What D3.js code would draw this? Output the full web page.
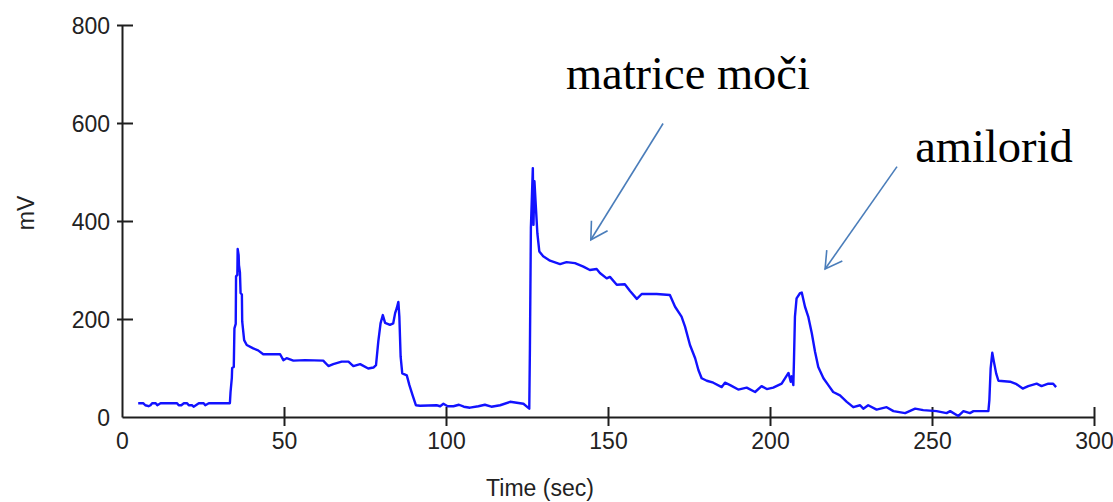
<!DOCTYPE html>
<html>
<head>
<meta charset="utf-8">
<script src="https://cdn.jsdelivr.net/npm/d3@7/dist/d3.min.js"></script>
<style>
  html, body { margin: 0; padding: 0; background: #fff; }
  svg { display: block; }
</style>
</head>
<body>
<svg id="chart" width="1113" height="502"></svg>
<script>
// ---- data ----
const timeSec = [5.0,6.6,7.2,8.2,8.8,9.3,10.4,10.9,11.9,17.0,17.5,18.3,19.1,20.1,20.6,21.6,22.1,22.8,23.7,25.2,25.7,26.8,33.3,
  33.5,33.9,34.0,34.5,34.7,35.1,35.2,35.6,35.7,36.0,36.1,36.4,36.6,37.0,37.1,37.7,38.5,40.5,42.0,43.6,48.8,49.8,50.8,52.9,
  56.5,62.1,63.7,65.2,67.8,69.9,71.4,73.5,76.0,77.6,78.4,79.1,79.8,80.5,81.2,82.7,83.7,84.3,84.8,85.3,85.6,86.0,86.5,87.9,
  88.7,89.7,90.7,92.0,97.1,98.2,99.2,100.5,102.3,104.0,105.5,107.4,110,112,114,116.7,119.8,123.9,125.7,125.9,126.2,126.8,
  127.0,127.3,127.7,128.2,128.8,130.0,132.1,135.2,137.2,139.8,142.4,144.4,146.5,147.5,149.6,150.6,152.7,155.2,156.8,158.9,
  160.4,165.0,169.1,170.7,172.7,173.8,175.3,176.9,177.9,178.9,180.5,182.5,185.1,186.1,187.7,190.2,192.8,195.4,197.4,199.0,
  201.0,203.6,205.7,206.4,206.7,207.2,207.4,207.7,208.2,209.3,209.8,210.8,211.8,212.9,213.9,214.9,216.5,218.0,219.5,221.6,
  223.7,225.7,227.8,228.8,230.3,232.9,236.0,238.1,241.7,244.8,247.3,251.4,254.5,255.6,258.1,259.7,261.7,262.8,267.4,267.7,
  268.1,268.6,269.1,269.8,270.5,274.1,276.1,278.0,279.7,282.3,283.8,285.9,287.4,288.3];
const millivolts = [28,28,24,22,24,28,28,24,28,28,24,24,28,28,24,24,21,24,28,28,24,28,28,
  51,80,100,102,181,190,287,290,343,330,310,295,253,250,195,157,147,140,136,128,128,116,120,115,
  116,115,104,108,113,113,104,108,99,101,106,154,191,208,192,188,191,212,222,235,205,123,89,85,
  65,44,24,23,24,22,27,22,22,25,21,19,22,25,21,24,31,27,17,140,386,508,
  392,481,433,375,338,328,319,312,316,314,307,300,302,294,283,286,270,271,257,241,
  251,251,249,225,205,184,147,120,96,79,74,70,61,70,65,56,60,51,63,57,
  60,68,90,72,83,65,116,205,242,253,254,225,205,171,133,102,79,65,51,44,
  31,20,24,17,24,15,20,12,8,17,14,12,8,12,2,12,8,12,12,34,
  99,131,113,89,74,72,67,58,63,68,63,68,68,61];

const xTicks = [0, 50, 100, 150, 200, 250, 300];
const yTicks = [0, 200, 400, 600, 800];
const xLabel = "Time (sec)";
const yLabel = "mV";

// annotations
const annotLabels = ["matrice moči", "amilorid"];
const annotTextT = [137, 244.8];
const annotTextV = [669, 521];
const arrowFromT = [167, 239.2];
const arrowFromV = [599, 511];
const arrowToT = [144.7, 217];
const arrowToV = [361.7, 302];

// ---- drawing ----
const svg = d3.select("#chart");
const x = d3.scaleLinear().domain([0, 300]).range([122, 1094]);
const y = d3.scaleLinear().domain([0, 800]).range([417, 25]);

const axisColor = "#1e1e1e";
const tickFont = "'Liberation Sans', Arial, sans-serif";
const fontSize = "23px";

// x axis
const gx = svg.append("g").attr("transform", `translate(0,${y(0)})`)
  .call(d3.axisBottom(x).tickValues(xTicks).tickSize(0).tickPadding(0));
gx.select(".domain").attr("stroke", axisColor).attr("stroke-width", 2);
gx.selectAll(".tick line")
  .attr("y1", -10).attr("y2", 9)
  .attr("stroke", axisColor).attr("stroke-width", 2)
  .attr("display", d => d === 0 ? "none" : null);
gx.selectAll(".tick text")
  .attr("y", 32).attr("dy", 0)
  .attr("fill", "#222").style("font-family", tickFont).style("font-size", fontSize);

// y axis
const gy = svg.append("g").attr("transform", `translate(${x(0)},0)`)
  .call(d3.axisLeft(y).tickValues(yTicks).tickSize(0).tickPadding(0));
gy.select(".domain").attr("stroke", axisColor).attr("stroke-width", 2);
gy.selectAll(".tick line")
  .attr("x1", -5).attr("x2", 11)
  .attr("stroke", axisColor).attr("stroke-width", 2)
  .attr("display", d => d === 0 ? "none" : null);
gy.selectAll(".tick text")
  .attr("x", -12).attr("dy", "0.36em")
  .attr("fill", "#222").style("font-family", tickFont).style("font-size", fontSize);

// axis titles
svg.append("text")
  .attr("x", 540).attr("y", 496)
  .attr("text-anchor", "middle")
  .attr("fill", "#222").style("font-family", tickFont).style("font-size", fontSize)
  .text(xLabel);
svg.append("text")
  .attr("transform", "translate(34,213) rotate(-90)")
  .attr("text-anchor", "middle")
  .attr("fill", "#222").style("font-family", tickFont).style("font-size", fontSize)
  .text(yLabel);

// data line
const pts = timeSec.map((t, i) => [t, millivolts[i]]);
svg.append("path")
  .datum(pts)
  .attr("fill", "none")
  .attr("stroke", "#1212ff")
  .attr("stroke-width", 2.4)
  .attr("stroke-linejoin", "round")
  .attr("d", d3.line().x(d => x(d[0])).y(d => y(d[1])));

// annotations
const arrowColor = "#4a7dba";
annotLabels.forEach((lab, i) => {
  svg.append("text")
    .attr("x", x(annotTextT[i])).attr("y", y(annotTextV[i]))
    .attr("fill", "#000")
    .style("font-family", "'Liberation Serif', 'Times New Roman', serif")
    .style("font-size", "46.5px")
    .text(lab);
  const x1 = x(arrowFromT[i]), y1 = y(arrowFromV[i]);
  const x2 = x(arrowToT[i]), y2 = y(arrowToV[i]);
  svg.append("line")
    .attr("x1", x1).attr("y1", y1).attr("x2", x2).attr("y2", y2)
    .attr("stroke", arrowColor).attr("stroke-width", 1.6);
  const ang = Math.atan2(y1 - y2, x1 - x2);
  const len = 19, spread = Math.PI / 6;
  const head = [
    [x2 + len * Math.cos(ang - spread), y2 + len * Math.sin(ang - spread)],
    [x2, y2],
    [x2 + len * Math.cos(ang + spread), y2 + len * Math.sin(ang + spread)]
  ];
  svg.append("path")
    .attr("d", d3.line()(head))
    .attr("fill", "none").attr("stroke", arrowColor).attr("stroke-width", 1.6);
});
</script>
</body>
</html>
